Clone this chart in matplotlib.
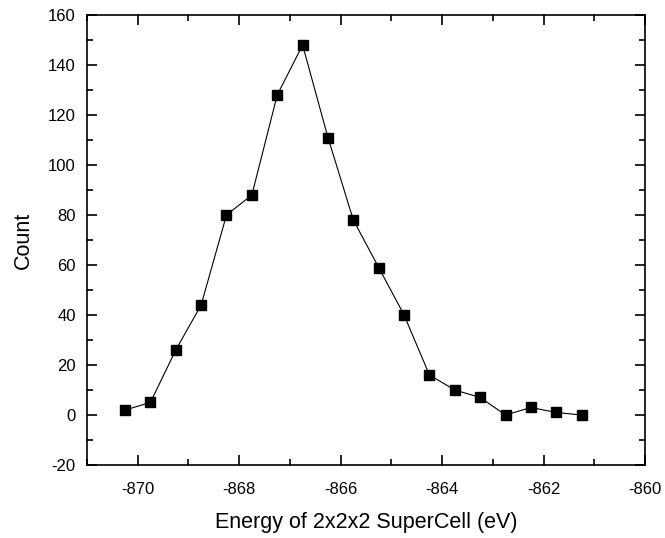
import numpy as np
import matplotlib
matplotlib.use("Agg")
import matplotlib.pyplot as plt
from matplotlib.ticker import MultipleLocator

energy = [-870.25, -869.75, -869.25, -868.75, -868.25, -867.75, -867.25,
          -866.75, -866.25, -865.75, -865.25, -864.75, -864.25, -863.75,
          -863.25, -862.75, -862.25, -861.75, -861.25]
count = [2, 5, 26, 44, 80, 88, 128, 148, 111, 78, 59, 40, 16, 10, 7, 0, 3, 1, 0]

xlabel = "Energy of 2x2x2 SuperCell (eV)"
ylabel = "Count"

plt.rcParams['font.family'] = ['Liberation Sans', 'DejaVu Sans']
plt.rcParams['axes.unicode_minus'] = False

fig = plt.figure(figsize=(6.65, 5.38), dpi=100)
ax = fig.add_axes([0.1308, 0.1357, 0.8392, 0.8364])

ax.plot(energy, count, color='black', lw=0.8, marker='s', markersize=7,
        markerfacecolor='black', markeredgecolor='black')

ax.set_xlim(-871, -860)
ax.set_ylim(-20, 160)
ax.xaxis.set_major_locator(MultipleLocator(2))
ax.xaxis.set_minor_locator(MultipleLocator(1))
ax.yaxis.set_major_locator(MultipleLocator(20))
ax.yaxis.set_minor_locator(MultipleLocator(10))

ax.tick_params(which='both', direction='in', top=True, right=True,
               width=1.2, labelsize=12)
ax.tick_params(which='major', length=7)
ax.tick_params(which='minor', length=4)
ax.tick_params(axis='x', pad=12)
ax.tick_params(axis='y', pad=8)
for s in ax.spines.values():
    s.set_linewidth(1.2)

ax.set_xlabel(xlabel, fontsize=15.5, labelpad=11)
ax.set_ylabel(ylabel, fontsize=15.5, labelpad=10)

fig.savefig("out.png", dpi=100)
